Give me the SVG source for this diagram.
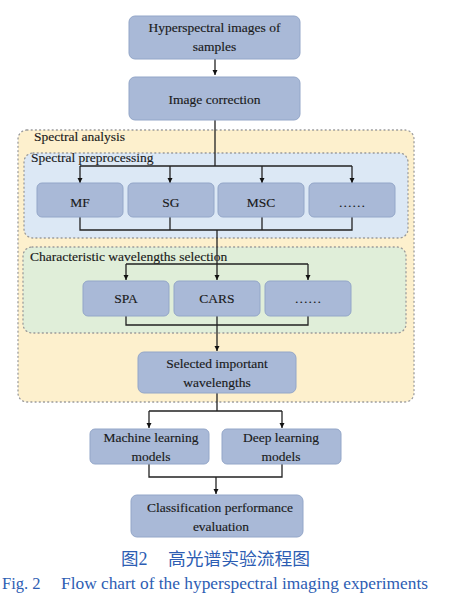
<svg xmlns="http://www.w3.org/2000/svg" width="450" height="607" viewBox="0 0 450 607">
<defs>
<marker id="ah" viewBox="0 0 10 10" refX="10" refY="5" markerWidth="5" markerHeight="6" orient="auto" markerUnits="userSpaceOnUse">
<path d="M0,0 L10,5 L0,10 z" fill="#111"/>
</marker>
<style>
.node{fill:#a9b9d7;stroke:#93a6c8;stroke-width:1}
.t{font-family:"Liberation Serif","Times New Roman",serif;font-size:13.5px;fill:#1a1a1a;stroke:#1a1a1a;stroke-width:0.15;text-anchor:middle}
.lbl{font-family:"Liberation Serif","Times New Roman",serif;font-size:13.5px;fill:#1a1a1a;stroke:#1a1a1a;stroke-width:0.15}
.region{stroke:#9a9a9a;stroke-width:1.3;stroke-dasharray:1 3.2;stroke-linecap:round}
.c{fill:none;stroke:#222;stroke-width:1.3}
.cap{fill:#2d5db3}
</style>
</defs>
<rect width="450" height="607" fill="#fff"/>
<g id="spectral-analysis">
<rect class="region" x="18" y="130" width="396" height="272" rx="9" fill="#fdf0cd"/>
<text class="lbl" x="34" y="141">Spectral analysis</text>
</g>
<g id="spectral-preprocessing">
<rect class="region" x="24" y="153" width="384" height="85" rx="9" fill="#dce8f5"/>
<text class="lbl" x="31" y="162">Spectral preprocessing</text>
</g>
<g id="wavelength-selection">
<rect class="region" x="23" y="247" width="383" height="86" rx="9" fill="#e0eed9"/>
<text class="lbl" x="30" y="261">Characteristic wavelengths selection</text>
</g>
<g id="connectors">
<path class="c" d="M215,59 V75" marker-end="url(#ah)"/>
<path class="c" d="M215,120 V166 M80,166 H352"/>
<path class="c" d="M80,166 V183" marker-end="url(#ah)"/>
<path class="c" d="M170,166 V183" marker-end="url(#ah)"/>
<path class="c" d="M262,166 V183" marker-end="url(#ah)"/>
<path class="c" d="M352,166 V183" marker-end="url(#ah)"/>
<path class="c" d="M80,217 V230 H352 V217 M170,217 V230 M262,217 V230"/>
<path class="c" d="M217,230 V280" marker-end="url(#ah)"/>
<path class="c" d="M126,264 H308"/>
<path class="c" d="M126,264 V280" marker-end="url(#ah)"/>
<path class="c" d="M308,264 V280" marker-end="url(#ah)"/>
<path class="c" d="M126,316 V325 H308 V316"/>
<path class="c" d="M217,316 V351" marker-end="url(#ah)"/>
<path class="c" d="M217,393 V411 M149,411 H282"/>
<path class="c" d="M149,411 V428" marker-end="url(#ah)"/>
<path class="c" d="M282,411 V428" marker-end="url(#ah)"/>
<path class="c" d="M149,464 V477 H282 V464"/>
<path class="c" d="M216,477 V494" marker-end="url(#ah)"/>
</g>
<g id="hsi">
<rect class="node" x="129" y="16" width="171" height="43" rx="6"/>
<text class="t" x="214.5" y="31.5">Hyperspectral images of</text>
<text class="t" x="214.5" y="50.5">samples</text>
</g>
<g id="image-correction">
<rect class="node" x="129" y="77" width="171" height="43" rx="6"/>
<text class="t" x="214.5" y="103.5">Image correction</text>
</g>
<g id="mf">
<rect class="node" x="37" y="183" width="86" height="34" rx="5"/>
<text class="t" x="80" y="206.5">MF</text>
</g>
<g id="sg">
<rect class="node" x="128" y="183" width="86" height="34" rx="5"/>
<text class="t" x="171" y="206.5">SG</text>
</g>
<g id="msc">
<rect class="node" x="218" y="183" width="86" height="34" rx="5"/>
<text class="t" x="261" y="206.5">MSC</text>
</g>
<g id="pre-more">
<rect class="node" x="309" y="183" width="86" height="34" rx="5"/>
<text class="t" x="352" y="206.5">……</text>
</g>
<g id="spa">
<rect class="node" x="83" y="281" width="86" height="35" rx="5"/>
<text class="t" x="126" y="302.5">SPA</text>
</g>
<g id="cars">
<rect class="node" x="174" y="281" width="86" height="35" rx="5"/>
<text class="t" x="217" y="302.5">CARS</text>
</g>
<g id="sel-more">
<rect class="node" x="265" y="281" width="86" height="35" rx="5"/>
<text class="t" x="308" y="302.5">……</text>
</g>
<g id="selected">
<rect class="node" x="138" y="352" width="158" height="41" rx="6"/>
<text class="t" x="217" y="367.5">Selected important</text>
<text class="t" x="217" y="386.5">wavelengths</text>
</g>
<g id="ml">
<rect class="node" x="90" y="429" width="119" height="35" rx="5"/>
<text class="t" x="151" y="441.5">Machine learning</text>
<text class="t" x="151" y="460.5">models</text>
</g>
<g id="dl">
<rect class="node" x="222" y="429" width="119" height="35" rx="5"/>
<text class="t" x="281" y="441.5">Deep learning</text>
<text class="t" x="281" y="460.5">models</text>
</g>
<g id="classification">
<rect class="node" x="131" y="495" width="172" height="42" rx="6"/>
<text class="t" x="220" y="511.5">Classification performance</text>
<text class="t" x="221" y="530.5">evaluation</text>
</g>
<g id="caption">
<text class="cap" x="121" y="565" font-family="Noto Sans CJK SC, sans-serif" font-size="17.5">图<tspan font-family="Liberation Serif, serif" font-size="18">2</tspan></text>
<text class="cap" x="168" y="565" font-family="Noto Sans CJK SC, sans-serif" font-size="17.5" textLength="142" lengthAdjust="spacingAndGlyphs">高光谱实验流程图</text>
<text class="cap" x="2" y="589" font-family="Liberation Serif, serif" font-size="16.5">Fig. 2</text>
<text class="cap" x="61" y="589" font-family="Liberation Serif, serif" font-size="16.5" textLength="367" lengthAdjust="spacingAndGlyphs">Flow chart of the hyperspectral imaging experiments</text>
</g>
</svg>
